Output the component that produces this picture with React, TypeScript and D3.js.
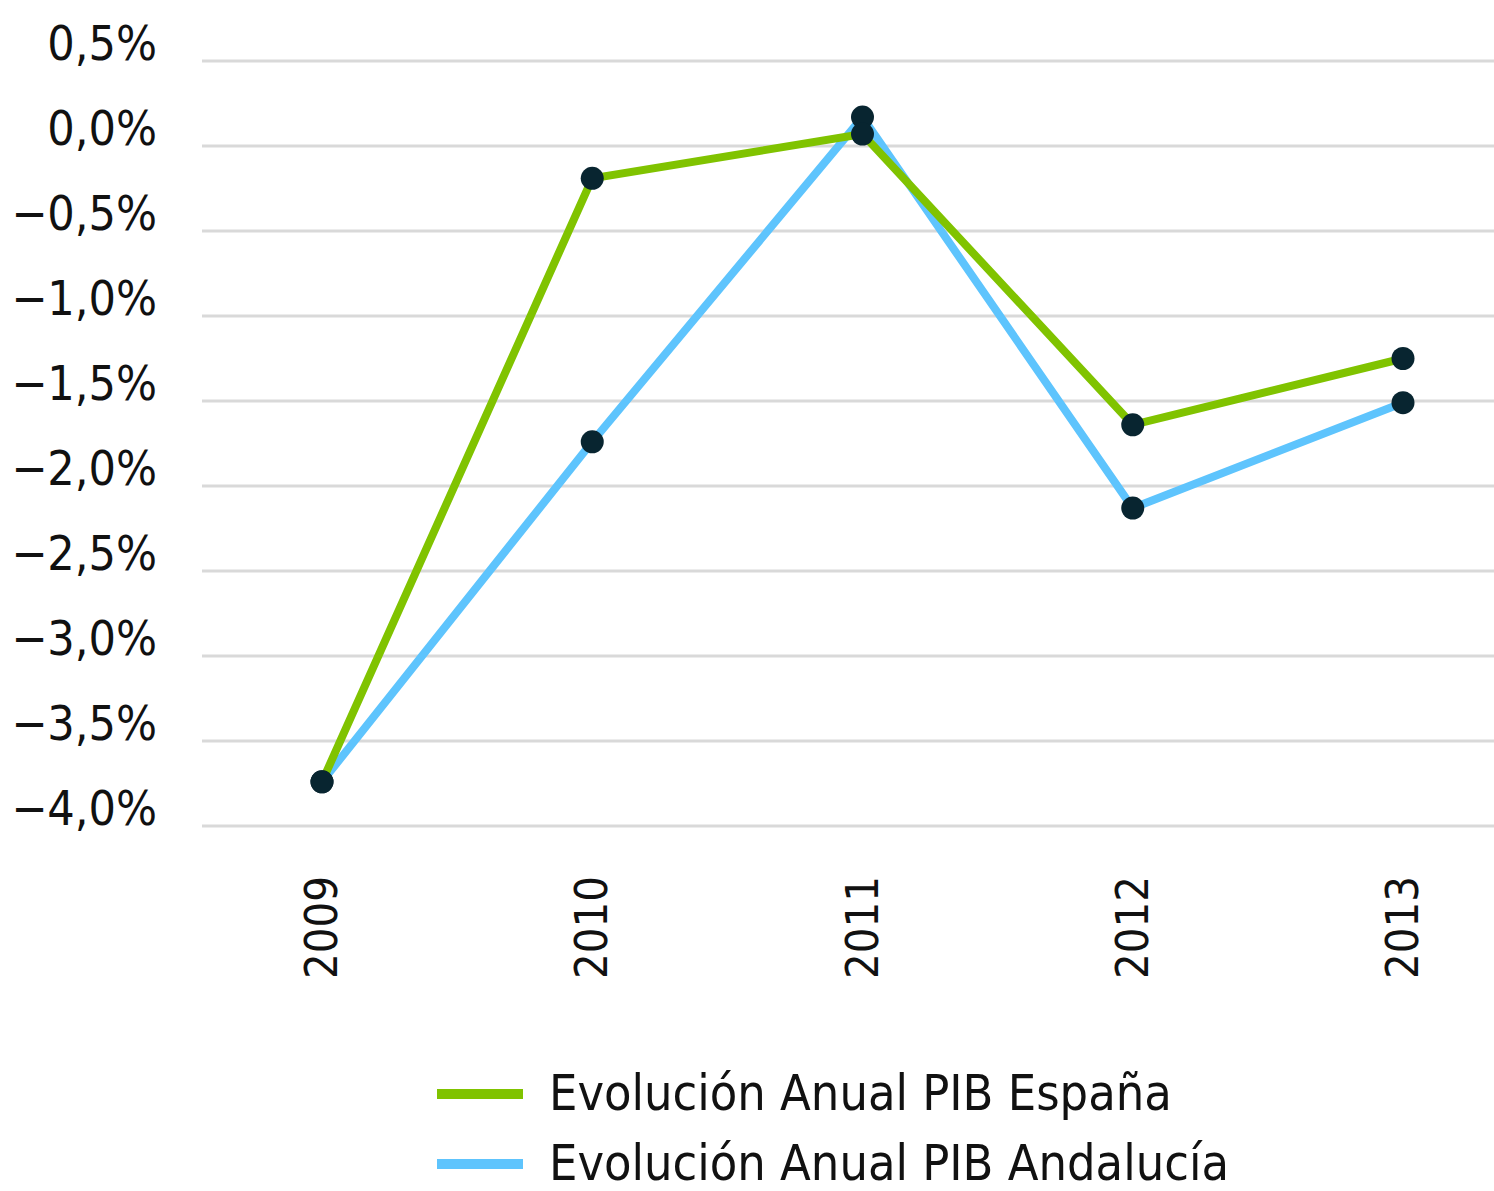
import { useEffect, useRef } from "react";
import * as d3 from "d3";

const years = ["2009", "2010", "2011", "2012", "2013"];
const espana = [-3.74, -0.19, 0.07, -1.64, -1.25];
const andalucia = [-3.74, -1.74, 0.17, -2.13, -1.51];
const yTicks = [0.5, 0, -0.5, -1, -1.5, -2, -2.5, -3, -3.5, -4];
const seriesNames = ["Evolución Anual PIB España", "Evolución Anual PIB Andalucía"];
const seriesColors = ["#80c300", "#5ec4fd"];

const FONT = "'DejaVu Sans Condensed', 'Liberation Sans Narrow', sans-serif";

export default function App() {
    const ref = useRef<SVGSVGElement>(null);

    useEffect(() => {
        const svg = d3.select(ref.current);
        svg.selectAll("*").remove();

        const x = d3.scalePoint().domain(years).range([322, 1403]);
        const y = d3.scaleLinear().domain([-4, 0.5]).range([826, 61]);

        const fmt = (v: number) => (v < 0 ? "\u2212" : "") + Math.abs(v).toFixed(1).replace(".", ",") + "%";

        // grid
        svg.append("g")
            .selectAll("line")
            .data(yTicks)
            .enter()
            .append("line")
            .attr("x1", 202)
            .attr("x2", 1494)
            .attr("y1", d => y(d))
            .attr("y2", d => y(d))
            .attr("stroke", "#d9d9d9")
            .attr("stroke-width", 3);

        // y labels
        svg.append("g")
            .selectAll("text")
            .data(yTicks)
            .enter()
            .append("text")
            .attr("x", 157)
            .attr("y", d => y(d) - 1)
            .attr("text-anchor", "end")
            .style("font-family", FONT)
            .style("font-size", "48px")
            .attr("fill", "#111")
            .text(d => fmt(d));

        // x labels
        svg.append("g")
            .selectAll("text")
            .data(years)
            .enter()
            .append("text")
            .attr("transform", d => `translate(${x(d)! + 15},876) rotate(-90)`)
            .attr("text-anchor", "end")
            .style("font-family", FONT)
            .style("font-size", "45px")
            .attr("fill", "#111")
            .text(d => d);

        const line = d3
            .line<number>()
            .x((d, i) => x(years[i])!)
            .y(d => y(d));

        const data = [andalucia, espana];
        const colors = [seriesColors[1], seriesColors[0]];
        data.forEach((s, k) => {
            svg.append("path")
                .datum(s)
                .attr("d", line)
                .attr("fill", "none")
                .attr("stroke", colors[k])
                .attr("stroke-width", 8)
                .attr("stroke-linejoin", "miter");
        });
        data.forEach(s => {
            svg.append("g")
                .selectAll("circle")
                .data(s)
                .enter()
                .append("circle")
                .attr("cx", (d, i) => x(years[i])!)
                .attr("cy", d => y(d))
                .attr("r", 11.5)
                .attr("fill", "#082530");
        });

        // legend
        const lg = svg.append("g");
        seriesNames.forEach((name, i) => {
            const ly = 1094 + i * 70;
            lg.append("line")
                .attr("x1", 437)
                .attr("x2", 523)
                .attr("y1", ly)
                .attr("y2", ly)
                .attr("stroke", seriesColors[i])
                .attr("stroke-width", 10);
            lg.append("text")
                .attr("x", 549)
                .attr("y", ly + 16)
                .style("font-family", FONT)
                .style("font-size", "50px")
                .attr("fill", "#111")
                .text(name);
        });
    }, []);

    return (
        <div style={{ position: "fixed", left: 0, top: 0, width: 1494, height: 1191, overflow: "hidden" }}>
            <svg ref={ref} width={1494} height={1191} style={{ display: "block", background: "#fff" }}></svg>
        </div>
    );
}
